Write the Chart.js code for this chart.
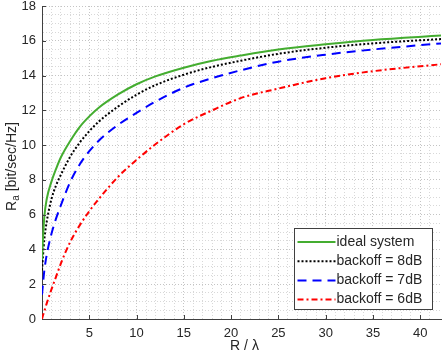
<!DOCTYPE html>
<html>
<head>
<meta charset="utf-8">
<script src="https://cdn.jsdelivr.net/npm/chart.js@4"></script>
<style>
  html, body { margin: 0; padding: 0; background: #fff; }
  #wrap { width: 443px; height: 356px; }
</style>
</head>
<body>
<div id="wrap"><canvas id="ratePlot" width="443" height="356"></canvas></div>
<script>
// R / lambda sample points (shared by all curves)
const rOverLambda = [0, 0.1, 0.25, 0.5, 1, 1.5, 2, 3, 4, 5, 6, 8, 10, 12, 15, 18, 21, 25, 30, 35, 42.2];

// Ra [bit/sec/Hz]
const idealSystem = [3.4, 4.6, 5.9, 6.9, 7.9, 8.65, 9.3, 10.25, 11.05, 11.65, 12.15, 12.9, 13.5, 13.95, 14.45, 14.85, 15.15, 15.5, 15.8, 16.05, 16.3];
const backoff8dB  = [2.8, 3.6, 4.6, 5.6, 6.9, 7.7, 8.3, 9.35, 10.15, 10.8, 11.35, 12.2, 12.9, 13.45, 14.05, 14.5, 14.85, 15.25, 15.6, 15.85, 16.1];
const backoff7dB  = [1.4, 2.0, 2.8, 3.7, 4.9, 5.8, 6.55, 7.9, 8.9, 9.65, 10.25, 11.15, 11.85, 12.5, 13.3, 13.85, 14.3, 14.8, 15.2, 15.5, 15.85];
const backoff6dB  = [0, 0.2, 0.45, 0.9, 1.7, 2.45, 3.2, 4.45, 5.4, 6.2, 6.9, 8.15, 9.15, 10.05, 11.2, 12.0, 12.7, 13.25, 13.85, 14.25, 14.65];

const seriesLabels = ['ideal system', 'backoff = 8dB', 'backoff = 7dB', 'backoff = 6dB'];

const FONT = '"Liberation Sans", Arial, Helvetica, sans-serif';
const AXIS_COLOR = '#404040';
const TEXT_COLOR = '#262626';

function toPoints(ys) {
    return ys.map((y, i) => ({ x: rOverLambda[i], y: y }));
}

function makeSeries(label, ys, color, dash) {
    return {
        label: label,
        data: toPoints(ys),
        borderColor: color,
        backgroundColor: color,
        borderWidth: 2,
        borderDash: dash,
        pointRadius: 0,
        fill: false,
        showLine: true,
        cubicInterpolationMode: 'monotone'
    };
}

// Axis titles, inward tick marks and the boxed legend
const decorations = {
    id: 'decorations',
    afterDraw(chart) {
        const ctx = chart.ctx;
        const area = chart.chartArea;
        const xs = chart.scales.x;
        const ys = chart.scales.y;

        // inward ticks at major positions
        ctx.save();
        ctx.strokeStyle = AXIS_COLOR;
        ctx.lineWidth = 1;
        ctx.setLineDash([]);
        ctx.beginPath();
        for (let v = 5; v <= xs.max; v += 5) {
            const px = Math.round(xs.getPixelForValue(v)) + 0.5;
            ctx.moveTo(px, area.bottom);
            ctx.lineTo(px, area.bottom - 4);
        }
        for (let v = 0; v <= ys.max; v += 2) {
            const py = Math.round(ys.getPixelForValue(v)) + 0.5;
            ctx.moveTo(area.left, py);
            ctx.lineTo(area.left + 4, py);
        }
        ctx.stroke();
        ctx.restore();

        // x title
        ctx.save();
        ctx.fillStyle = TEXT_COLOR;
        ctx.font = '14px ' + FONT;
        ctx.textAlign = 'center';
        ctx.textBaseline = 'middle';
        ctx.fillText('R / \u03bb', (area.left + area.right) / 2 + 3, 346);
        ctx.restore();

        // y title with subscript
        ctx.save();
        ctx.fillStyle = TEXT_COLOR;
        ctx.translate(12, (area.top + area.bottom) / 2 + 4);
        ctx.rotate(-Math.PI / 2);
        ctx.textBaseline = 'middle';
        ctx.font = '14px ' + FONT;
        const wR = ctx.measureText('R').width;
        const wRest = ctx.measureText(' [bit/sec/Hz]').width;
        ctx.font = '10px ' + FONT;
        const wSub = ctx.measureText('a').width;
        let x0 = -(wR + wSub + wRest) / 2;
        ctx.font = '14px ' + FONT;
        ctx.fillText('R', x0, 0);
        ctx.font = '10px ' + FONT;
        ctx.fillText('a', x0 + wR, 4);
        ctx.font = '14px ' + FONT;
        ctx.fillText(' [bit/sec/Hz]', x0 + wR + wSub, 0);
        ctx.restore();

        // legend box
        const boxW = 138, rowH = 19.2;
        const boxH = 81;
        const bx = Math.round(area.right - 9 - boxW) + 0.5;
        const by = Math.round(area.bottom - 10 - boxH) + 0.5;
        ctx.save();
        ctx.fillStyle = '#ffffff';
        ctx.fillRect(bx, by, boxW, boxH);
        ctx.strokeStyle = AXIS_COLOR;
        ctx.lineWidth = 1;
        ctx.strokeRect(bx, by, boxW, boxH);
        ctx.font = '14px ' + FONT;
        ctx.textBaseline = 'middle';
        chart.data.datasets.forEach((ds, i) => {
            const cy = by + 13.5 + i * rowH;
            ctx.strokeStyle = ds.borderColor;
            ctx.lineWidth = ds.borderWidth;
            ctx.setLineDash(ds.borderDash || []);
            ctx.beginPath();
            ctx.moveTo(bx + 3, cy);
            ctx.lineTo(bx + 41, cy);
            ctx.stroke();
            ctx.setLineDash([]);
            ctx.fillStyle = TEXT_COLOR;
            ctx.fillText(ds.label, bx + 42, cy);
        });
        ctx.restore();
    }
};

function gridColor(major, minor) {
    return function(c) {
        const v = c.tick ? c.tick.value : 0;
        if (Math.abs(v - Math.round(v * 2) / 2) > 1e-6) return 'rgba(0,0,0,0)';
        return major(v) ? '#c4c4c4' : (minor(v) ? '#d8d8d8' : 'rgba(0,0,0,0)');
    };
}

const chart = new Chart(document.getElementById('ratePlot').getContext('2d'), {
    type: 'scatter',
    data: {
        datasets: [
            makeSeries(seriesLabels[0], idealSystem, '#44ad30', []),
            makeSeries(seriesLabels[1], backoff8dB, '#000000', [2, 2]),
            makeSeries(seriesLabels[2], backoff7dB, '#0000ff', [9, 6]),
            makeSeries(seriesLabels[3], backoff6dB, '#ff0000', [6, 3, 2, 3])
        ]
    },
    options: {
        responsive: false,
        animation: false,
        events: [],
        layout: { padding: { top: 6, right: 2, left: 0, bottom: 0 } },
        plugins: {
            legend: { display: false },
            tooltip: { enabled: false }
        },
        scales: {
            x: {
                type: 'linear',
                min: 0,
                max: 42.2,
                afterFit(scale) {
                    scale.height = 37;
                    scale.paddingLeft = 0;
                    scale.paddingRight = 0;
                },
                border: { display: true, color: AXIS_COLOR, width: 1, dash: [1, 2] },
                grid: {
                    drawTicks: false,
                    color: gridColor(v => v > 0 && v % 5 === 0, v => v > 0 && Number.isInteger(v))
                },
                ticks: {
                    stepSize: 1,
                    autoSkip: false,
                    maxRotation: 0,
                    padding: 7,
                    color: TEXT_COLOR,
                    font: { family: FONT, size: 13 },
                    callback: v => (v > 0 && v % 5 === 0) ? String(v) : ''
                }
            },
            y: {
                type: 'linear',
                min: 0,
                max: 18,
                afterFit(scale) {
                    scale.width = 42;
                    scale.paddingTop = 0;
                    scale.paddingBottom = 0;
                },
                border: { display: true, color: AXIS_COLOR, width: 1, dash: [1, 2] },
                grid: {
                    drawTicks: false,
                    color: gridColor(v => v > 0 && v % 2 === 0, v => v > 0)
                },
                ticks: {
                    stepSize: 0.5,
                    autoSkip: false,
                    padding: 6,
                    color: TEXT_COLOR,
                    font: { family: FONT, size: 13 },
                    callback: v => (v % 2 === 0) ? String(v) : ''
                }
            }
        }
    },
    plugins: [decorations]
});
</script>
</body>
</html>
